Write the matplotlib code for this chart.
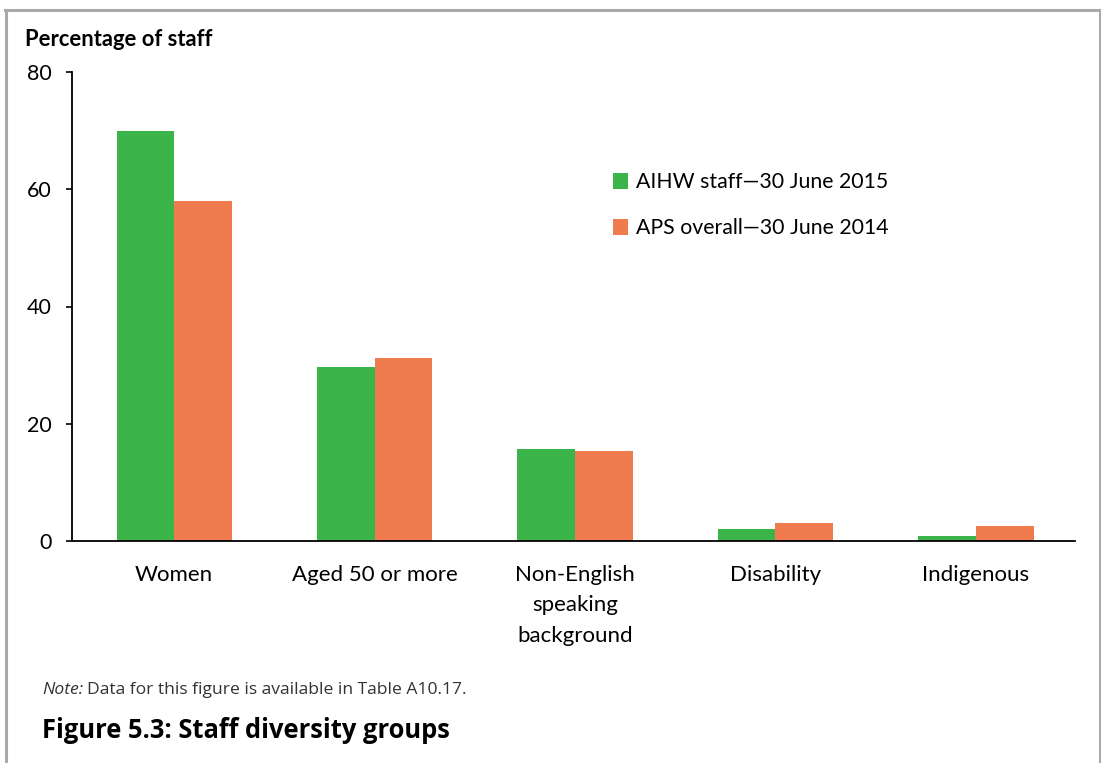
import numpy as np
import matplotlib
matplotlib.use("Agg")
import matplotlib.pyplot as plt
from matplotlib.lines import Line2D

categories = ["Women", "Aged 50 or more", "Non-English\nspeaking\nbackground",
              "Disability", "Indigenous"]
aihw_2015 = [70.0, 29.7, 15.7, 2.1, 0.9]
aps_2014 = [58.0, 31.2, 15.4, 3.1, 2.5]
series_labels = ["AIHW staff\u201430 June 2015", "APS overall\u201430 June 2014"]
yticks = [0, 20, 40, 60, 80]

GREEN = "#3BB54A"
ORANGE = "#EF7B4F"
FRAME = "#A7A9AC"
CHART_FONT = ["Lato", "DejaVu Sans"]
TEXT_FONT = ["Open Sans", "DejaVu Sans"]

plt.rcParams["font.family"] = TEXT_FONT

W, H = 1101, 763
fig = plt.figure(figsize=(W / 100, H / 100), dpi=100)

# axes box in pixel coordinates
left, right, top, bottom = 72, 1075, 72, 541
ax = fig.add_axes([left / W, 1 - bottom / H, (right - left) / W, (bottom - top) / H])

x = np.arange(len(categories))
bw = 0.287
ax.bar(x - bw / 2, aihw_2015, width=bw, color=GREEN, label=series_labels[0], zorder=2)
ax.bar(x + bw / 2, aps_2014, width=bw, color=ORANGE, label=series_labels[1], zorder=2)

ax.set_xlim(-0.509, len(categories) - 0.506)
ax.set_ylim(0, 80)
ax.set_yticks(yticks)
ax.set_yticklabels([str(v) for v in yticks], fontsize=15.5, family=CHART_FONT)
ax.tick_params(axis="y", length=4.5, width=1.2, pad=10, colors="black")
ax.set_xticks(x)
ax.set_xticklabels(categories, fontsize=16, linespacing=1.66, family=CHART_FONT, va="top")
ax.tick_params(axis="x", length=0, pad=17)

for s in ("top", "right"):
    ax.spines[s].set_visible(False)
for s in ("left", "bottom"):
    ax.spines[s].set_linewidth(1.3)
    ax.spines[s].set_color("black")

ax.legend(loc="upper left",
          bbox_to_anchor=((604 - left) / (right - left), (bottom - 164) / (bottom - top)),
          frameon=False, handlelength=0.74, handleheight=0.74,
          handletextpad=0.35, labelspacing=1.22, borderaxespad=0,
          prop={"family": CHART_FONT, "size": 15.3})

# y-axis caption
fig.text(25 / W, 1 - 40 / H, "Percentage of staff", fontsize=15.8, fontweight="bold",
         family=CHART_FONT, ha="left", va="center")

# note line: italic lead-in followed by regular text
note_y = 1 - 690 / H
lead = fig.text(42 / W, note_y, "Note:", fontsize=12.6, style="italic", color="#333333",
                ha="left", va="center", family=TEXT_FONT)
renderer = fig.canvas.get_renderer()
bb = lead.get_window_extent(renderer=renderer)
fig.text((bb.x1 + 4) / W, note_y, "Data for this figure is available in Table A10.17.",
         fontsize=12.6, color="#333333", ha="left", va="center", family=TEXT_FONT)

fig.text(42 / W, 1 - 730 / H, "Figure 5.3: Staff diversity groups", fontsize=18.4,
         fontweight="bold", ha="left", va="center", family=TEXT_FONT)

# grey frame around the panel
for xs, ys in (([6 / W, 6 / W], [0, 1 - 10 / H]),
               ([1099.5 / W, 1099.5 / W], [0, 1 - 10 / H]),
               ([5 / W, 1101 / W], [1 - 10 / H, 1 - 10 / H])):
    fig.add_artist(Line2D(xs, ys, color=FRAME, lw=2.2, transform=fig.transFigure))

fig.savefig("out.png", dpi=100, facecolor="white")
